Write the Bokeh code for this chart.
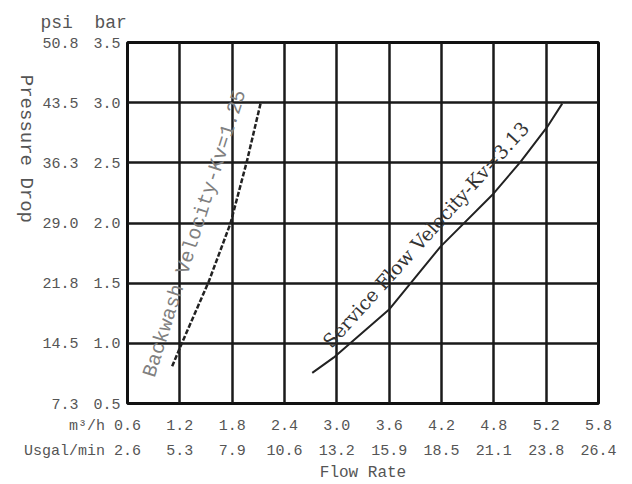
import math
from bokeh.plotting import figure
from bokeh.models import LinearAxis, FixedTicker, Range1d, Label, Title
from bokeh.embed import file_html
from bokeh.resources import INLINE

# ---- data ----
flow_ticks = [0.6, 1.2, 1.8, 2.4, 3.0, 3.6, 4.2, 4.8, 5.4, 6.0]
flow_m3h_labels = ["0.6", "1.2", "1.8", "2.4", "3.0", "3.6", "4.2", "4.8", "5.2", "5.8"]
flow_usgal_labels = ["2.6", "5.3", "7.9", "10.6", "13.2", "15.9", "18.5", "21.1", "23.8", "26.4"]
bar_ticks = [0.5, 1.0, 1.5, 2.0, 2.5, 3.0, 3.5]
bar_labels = ["0.5", "1.0", "1.5", "2.0", "2.5", "3.0", "3.5"]
psi_labels = ["7.3", "14.5", "21.8", "29.0", "36.3", "43.5", "50.8"]
m3h_unit = "m³/h"
usgal_unit = "Usgal/min"

backwash_flow = [1.112, 1.216, 1.532, 1.781, 1.972, 2.125]
backwash_bar = [0.809, 0.989, 1.514, 1.998, 2.522, 2.992]
service_flow = [2.718, 2.962, 3.157, 3.596, 4.189, 4.781, 5.106, 5.412, 5.584]
service_bar = [0.754, 0.881, 1.003, 1.279, 1.804, 2.232, 2.508, 2.798, 2.992]

TICK_FONT = "Liberation Mono"
GREY = "#555555"
NB = "\u00a0"

p = figure(width=632, height=484, output_backend="svg", toolbar_location=None,
           x_range=Range1d(0.6, 6.0), y_range=Range1d(0.5, 3.5),
           min_border_left=127, min_border_right=34, min_border_top=42, min_border_bottom=80,
           x_axis_location=None, y_axis_location=None)

p.outline_line_color = "#111111"
p.outline_line_width = 3
p.background_fill_color = "white"
p.border_fill_color = "white"

def style_axis(ax, standoff):
    ax.axis_line_color = None
    ax.major_tick_line_color = None
    ax.minor_tick_line_color = None
    ax.major_tick_in = 0
    ax.major_tick_out = 0
    ax.major_label_standoff = standoff
    ax.major_label_text_font = TICK_FONT
    ax.major_label_text_font_size = "15px"
    ax.major_label_text_color = GREY

bar_axis = LinearAxis(ticker=FixedTicker(ticks=bar_ticks),
                      major_label_overrides=dict(zip(bar_ticks, bar_labels)))
style_axis(bar_axis, 7)
psi_axis = LinearAxis(ticker=FixedTicker(ticks=bar_ticks),
                      major_label_overrides=dict(zip(bar_ticks, psi_labels)))
style_axis(psi_axis, 12)
psi_axis.axis_label = "Pressure Drop"
psi_axis.axis_label_text_font = TICK_FONT
psi_axis.axis_label_text_font_size = "19px"
psi_axis.axis_label_text_font_style = "normal"
psi_axis.axis_label_text_color = GREY
psi_axis.axis_label_standoff = 13
if hasattr(psi_axis, "axis_label_orientation"):
    psi_axis.axis_label_orientation = -math.pi / 2
p.add_layout(bar_axis, "left")
p.add_layout(psi_axis, "left")

def first_with_unit(labels, unit):
    # unit name sits left of the first tick label; padding keeps the number centred on its tick
    out = list(labels)
    head = unit + NB
    out[0] = head + labels[0] + NB * len(head)
    return out

m3h_axis = LinearAxis(ticker=FixedTicker(ticks=flow_ticks),
                      major_label_overrides=dict(zip(flow_ticks, first_with_unit(flow_m3h_labels, NB * 5 + m3h_unit))))
style_axis(m3h_axis, 14)
usgal_axis = LinearAxis(ticker=FixedTicker(ticks=flow_ticks),
                        major_label_overrides=dict(zip(flow_ticks, first_with_unit(flow_usgal_labels, usgal_unit))))
style_axis(usgal_axis, 5)
usgal_axis.axis_label = "Flow Rate"
usgal_axis.axis_label_text_font = TICK_FONT
usgal_axis.axis_label_text_font_size = "16px"
usgal_axis.axis_label_text_font_style = "normal"
usgal_axis.axis_label_text_color = GREY
usgal_axis.axis_label_standoff = 1
p.add_layout(m3h_axis, "below")
p.add_layout(usgal_axis, "below")

p.add_layout(Title(text="psi" + NB + NB + "bar", align="left", offset=-87, standoff=20,
                   text_font=TICK_FONT, text_font_size="18px", text_font_style="normal",
                   text_color=GREY), "above")

p.xgrid.ticker = FixedTicker(ticks=flow_ticks)
p.ygrid.ticker = FixedTicker(ticks=bar_ticks)
for g in (p.xgrid, p.ygrid):
    g.grid_line_color = "#1a1a1a"
    g.grid_line_width = 2.5
    g.grid_line_alpha = 1.0

p.line(backwash_flow, backwash_bar, line_color="#222222", line_width=2.5, line_dash="5 2")
p.line(service_flow, service_bar, line_color="#222222", line_width=2)

p.add_layout(Label(x=2.88, y=0.99, text="Service Flow Velocity-Kv=3.13",
                   text_font="DejaVu Serif", text_font_size="19px",
                   text_align="left", text_baseline="middle", angle=47.9, angle_units="deg",
                   text_color="#333333"))
p.add_layout(Label(x=0.85, y=0.724, text="Backwash Velocity-Kv=1.25",
                   text_font=TICK_FONT, text_font_size="20px",
                   text_align="left", text_baseline="middle", angle=72.3, angle_units="deg",
                   text_color="#808080"))

open("out.html", "w").write(file_html(p, INLINE))
